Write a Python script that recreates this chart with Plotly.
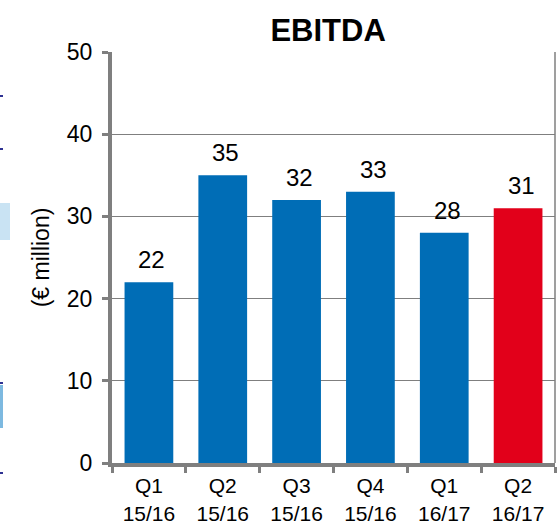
import plotly.graph_objects as go

# Quarterly EBITDA, € million
quarters = ["Q1<br>15/16", "Q2<br>15/16", "Q3<br>15/16", "Q4<br>15/16", "Q1<br>16/17", "Q2<br>16/17"]
ebitda = [22, 35, 32, 33, 28, 31]
bar_colors = ["#006DB6", "#006DB6", "#006DB6", "#006DB6", "#006DB6", "#E2001A"]
y_ticks = [0, 10, 20, 30, 40, 50]

AXIS_GREY = "#7F7F7F"
FONT = "Liberation Sans, Arial, sans-serif"

fig = go.Figure(
    go.Bar(
        x=quarters,
        y=ebitda,
        marker=dict(color=bar_colors, line=dict(width=0)),
        width=0.66,
        hoverinfo="x+y",
    )
)

# Value labels above each bar
value_labels = [
    dict(x=q, y=v, text=str(v), showarrow=False, yanchor="bottom", yshift=7, xshift=3,
         font=dict(size=24, family=FONT, color="#000000"))
    for q, v in zip(quarters, ebitda)
]

# Slide fragments along the left edge
left_marks = []
for y0, y1, col in [(95, 97, "#2E3192"), (148, 150, "#2E3192"),
                    (382, 384, "#2E3192"), (472, 474, "#2E3192")]:
    left_marks.append(dict(type="rect", xref="paper", yref="paper",
                           x0=-112 / 443, x1=-109 / 443,
                           y0=(463 - y1) / 411, y1=(463 - y0) / 411,
                           fillcolor=col, line=dict(width=0), layer="above"))
for y0, y1, x1, col in [(203, 240, 10, "#C9E3F3"), (385, 428, 3, "#7DB9E0")]:
    left_marks.append(dict(type="rect", xref="paper", yref="paper",
                           x0=-112 / 443, x1=(x1 - 112) / 443,
                           y0=(463 - y1) / 411, y1=(463 - y0) / 411,
                           fillcolor=col, line=dict(width=0), layer="above"))

# Thin right border of the plot area
border = dict(type="line", xref="paper", yref="paper", x0=1, x1=1, y0=0, y1=1,
              line=dict(color=AXIS_GREY, width=1.5))

fig.update_layout(
    width=558,
    height=528,
    margin=dict(l=112, r=3, t=52, b=65),
    paper_bgcolor="#FFFFFF",
    plot_bgcolor="#FFFFFF",
    showlegend=False,
    bargap=0.34,
    font=dict(family=FONT, color="#000000"),
    title=dict(text="<b>EBITDA</b>", xref="container", x=0.588, xanchor="center",
               y=0.943, yanchor="middle",
               font=dict(size=31, family=FONT, color="#000000")),
    shapes=left_marks + [border],
    annotations=value_labels,
)

fig.update_xaxes(
    showline=True, linecolor=AXIS_GREY, linewidth=4,
    ticks="outside", tickson="boundaries", ticklen=6, tickwidth=3, tickcolor=AXIS_GREY,
    tickfont=dict(size=21, family=FONT, color="#000000"), ticklabelstandoff=1,
    showgrid=False, zeroline=False, fixedrange=True, automargin=False,
)

fig.update_yaxes(
    range=[0, 50], tickvals=y_ticks,
    showline=True, linecolor=AXIS_GREY, linewidth=4,
    ticks="outside", ticklen=6, tickwidth=3, tickcolor=AXIS_GREY,
    tickfont=dict(size=23, family=FONT, color="#000000"), ticklabelstandoff=5,
    showgrid=True, gridcolor=AXIS_GREY, gridwidth=1.2,
    zeroline=False, automargin=False,
    title=dict(text="(€ million)", font=dict(size=23, family=FONT, color="#000000"), standoff=12),
)

fig.write_html("out.html")
